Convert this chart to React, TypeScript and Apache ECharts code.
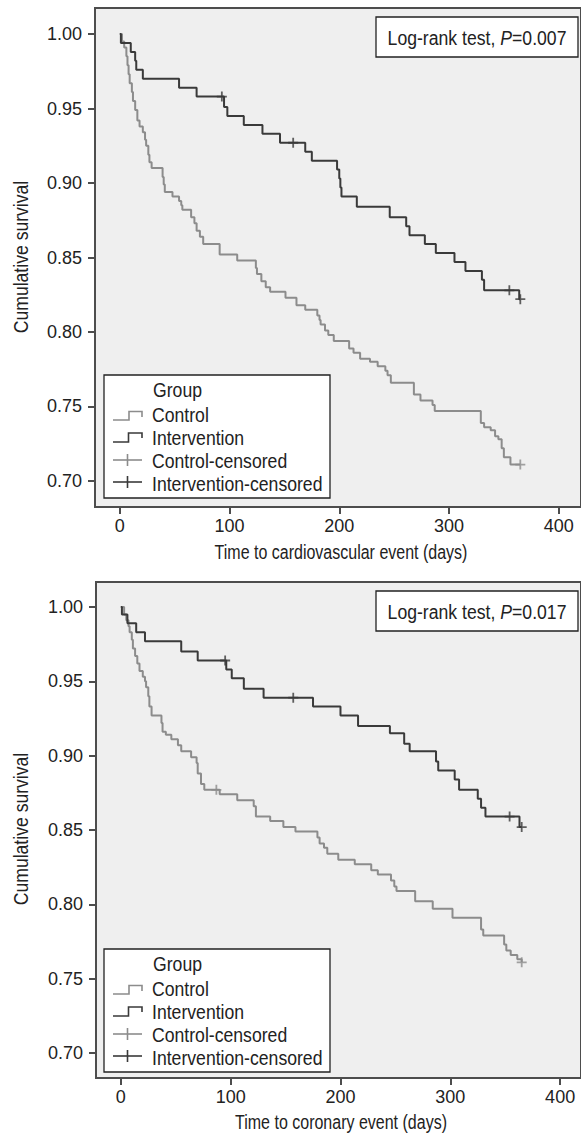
import React, { useEffect, useRef } from "react";
import * as echarts from "echarts";

// ---------- data ----------
const xTicks = [0, 100, 200, 300, 400];
const yTicks = [0.7, 0.75, 0.8, 0.85, 0.9, 0.95, 1.0];

const legendLabels = ["Group", "Control", "Intervention", "Control-censored", "Intervention-censored"];
const xNames = ["Time to cardiovascular event (days)", "Time to coronary event (days)"];
const pValues = ["0.007", "0.017"];

// Panel 1: cardiovascular event
const cvControl: [number, number][] = [
  [0, 1.0], [2, 0.995], [4, 0.991], [6, 0.985], [7, 0.979], [8, 0.973], [9, 0.967], [11, 0.961],
  [12, 0.955], [14, 0.949], [16, 0.942], [18, 0.938], [21, 0.934], [23, 0.929], [24, 0.925],
  [26, 0.919], [27, 0.914], [29, 0.91], [39, 0.904], [40, 0.899], [41, 0.894], [48, 0.891],
  [54, 0.888], [56, 0.885], [57, 0.882], [65, 0.877], [68, 0.873], [70, 0.868], [73, 0.864],
  [76, 0.859], [91, 0.852], [107, 0.848], [124, 0.843], [125, 0.839], [129, 0.834], [133, 0.83],
  [137, 0.827], [151, 0.823], [161, 0.818], [169, 0.815], [180, 0.811], [182, 0.808], [183, 0.805],
  [187, 0.801], [190, 0.798], [195, 0.794], [209, 0.789], [213, 0.786], [219, 0.782], [228, 0.78],
  [235, 0.777], [242, 0.774], [244, 0.771], [247, 0.766], [268, 0.758], [274, 0.754], [285, 0.751],
  [287, 0.747], [329, 0.739], [332, 0.736], [338, 0.734], [342, 0.73], [345, 0.728], [348, 0.722],
  [350, 0.716], [356, 0.711], [365, 0.711],
];
const cvIntervention: [number, number][] = [
  [0, 1.0], [1, 0.994], [10, 0.988], [14, 0.982], [15, 0.976], [21, 0.97], [54, 0.964], [70, 0.958],
  [95, 0.951], [98, 0.945], [113, 0.939], [130, 0.933], [146, 0.927], [169, 0.921], [175, 0.915],
  [198, 0.909], [200, 0.903], [201, 0.897], [202, 0.891], [216, 0.884], [246, 0.877], [261, 0.871],
  [264, 0.865], [278, 0.859], [288, 0.853], [305, 0.847], [315, 0.841], [330, 0.835], [332, 0.828],
  [364, 0.822], [365, 0.822],
];
const cvControlCensored: [number, number][] = [[365, 0.711]];
const cvInterventionCensored: [number, number][] = [[93, 0.958], [158, 0.927], [355, 0.828], [365, 0.822]];

// Panel 2: coronary event
const coControl: [number, number][] = [
  [0, 1.0], [3, 0.995], [5, 0.991], [7, 0.987], [8, 0.983], [10, 0.978], [11, 0.972], [13, 0.967],
  [15, 0.962], [17, 0.957], [20, 0.953], [22, 0.95], [23, 0.946], [25, 0.94], [26, 0.933], [28, 0.927],
  [37, 0.922], [38, 0.916], [41, 0.914], [46, 0.911], [52, 0.907], [55, 0.903], [64, 0.899],
  [69, 0.895], [70, 0.888], [73, 0.881], [76, 0.877], [90, 0.874], [106, 0.87], [121, 0.866],
  [123, 0.859], [136, 0.856], [148, 0.852], [159, 0.849], [179, 0.845], [181, 0.841], [185, 0.838],
  [188, 0.834], [198, 0.83], [213, 0.827], [228, 0.823], [234, 0.82], [246, 0.816], [249, 0.812],
  [251, 0.809], [268, 0.802], [284, 0.797], [302, 0.791], [328, 0.783], [330, 0.779], [349, 0.773],
  [351, 0.769], [355, 0.766], [361, 0.763], [365, 0.761],
];
const coIntervention: [number, number][] = [
  [0, 1.0], [1, 0.995], [6, 0.989], [14, 0.983], [22, 0.977], [55, 0.97], [70, 0.964], [96, 0.958],
  [101, 0.952], [112, 0.945], [130, 0.939], [175, 0.933], [200, 0.927], [216, 0.92], [245, 0.915],
  [258, 0.908], [263, 0.903], [287, 0.896], [289, 0.89], [304, 0.884], [308, 0.877], [325, 0.871],
  [328, 0.865], [332, 0.859], [363, 0.852], [365, 0.852],
];
const coControlCensored: [number, number][] = [[87, 0.877], [365, 0.761]];
const coInterventionCensored: [number, number][] = [[95, 0.964], [157, 0.939], [354, 0.859], [365, 0.852]];

// ---------- styling ----------
const FONT = "'Liberation Sans', Arial, sans-serif";
const TEXT = "#222";
const GRAY = "#8c8c8c";
const DARK = "#3a3a3a";
const FRAME = "#4d4d4d";
const CROSS = "path://M4.1,0H5.9V4.1H10V5.9H5.9V10H4.1V5.9H0V4.1H4.1Z";

function axisX(gridIndex: number, min: number, max: number) {
  return {
    type: "value",
    gridIndex,
    min,
    max,
    axisLine: { show: false, onZero: false },
    splitLine: { show: false },
    axisTick: { show: true, length: 7, customValues: xTicks, lineStyle: { color: FRAME, width: 2 } },
    axisLabel: { customValues: xTicks, margin: 10, fontSize: 18, color: TEXT, fontFamily: FONT },
  };
}
function axisY(gridIndex: number, min: number, max: number) {
  return {
    type: "value",
    gridIndex,
    min,
    max,
    axisLine: { show: false, onZero: false },
    splitLine: { show: false },
    axisTick: { show: true, length: 7, customValues: yTicks, lineStyle: { color: FRAME, width: 2 } },
    axisLabel: {
      customValues: yTicks,
      margin: 13,
      fontSize: 18,
      color: TEXT,
      fontFamily: FONT,
      formatter: (v: number) => v.toFixed(2),
    },
  };
}

function kmSeries(idx: number, data: [number, number][], color: string) {
  return {
    type: "line",
    xAxisIndex: idx,
    yAxisIndex: idx,
    data,
    step: "end",
    symbol: "none",
    showSymbol: false,
    silent: true,
    lineStyle: { color, width: 2 },
    z: 3,
  };
}
function censSeries(idx: number, data: [number, number][], color: string) {
  return {
    type: "scatter",
    xAxisIndex: idx,
    yAxisIndex: idx,
    data,
    symbol: CROSS,
    symbolSize: 10,
    silent: true,
    itemStyle: { color },
    z: 4,
  };
}

function txt(x: number, y: number, text: string, align: string, size: number, sx: number, extra: any = {}) {
  return {
    type: "text",
    x,
    y,
    z: 20,
    scaleX: sx,
    silent: true,
    ...extra,
    style: {
      text,
      fill: TEXT,
      fontSize: size,
      fontFamily: FONT,
      align,
      textAlign: align,
      verticalAlign: "middle",
      textVerticalAlign: "middle",
      ...(extra.style || {}),
    },
  };
}

function panelGraphics(dy: number, xName: string, p: string, yMid: number, xNameY: number) {
  const els: any[] = [];
  // axis names
  els.push(txt(21, yMid, "Cumulative survival", "center", 20, 0.88, { rotation: Math.PI / 2 }));
  els.push(txt(341, xNameY, xName, "center", 20, 0.8));
  // log-rank box
  els.push({
    type: "rect",
    z: 19,
    silent: true,
    shape: { x: 376, y: 17 + dy, width: 202, height: 40 },
    style: { fill: "#fff", stroke: "#222", lineWidth: 1.3 },
  });
  els.push({
    type: "text",
    x: 477,
    y: 37 + dy,
    z: 20,
    scaleX: 0.84,
    silent: true,
    style: {
      text: "Log-rank test, {i|P}=" + p,
      fill: TEXT,
      fontSize: 21,
      fontFamily: FONT,
      align: "center",
      textAlign: "center",
      verticalAlign: "middle",
      textVerticalAlign: "middle",
      rich: { i: { fontStyle: "italic", fontSize: 21, fontFamily: FONT, fill: TEXT } },
    },
  });
  // legend box
  els.push({
    type: "rect",
    z: 19,
    silent: true,
    shape: { x: 104, y: 375 + dy, width: 226, height: 123 },
    style: { fill: "#fff", stroke: "#222", lineWidth: 1.3 },
  });
  const rowsY = [389, 414, 437, 460, 483];
  legendLabels.forEach((lab, i) => {
    els.push(txt(i === 0 ? 153 : 152, rowsY[i] + dy, lab, "left", 21, 0.84));
  });
  els.push({
    type: "polyline",
    z: 20,
    silent: true,
    shape: { points: [[113, 420 + dy], [129, 420 + dy], [129, 411.5 + dy], [142, 411.5 + dy], [142, 417 + dy]] },
    style: { stroke: GRAY, lineWidth: 1.6, fill: "none" },
  });
  els.push({
    type: "polyline",
    z: 20,
    silent: true,
    shape: { points: [[113, 442 + dy], [128.5, 442 + dy], [128.5, 433 + dy], [142, 433 + dy], [142, 438 + dy]] },
    style: { stroke: DARK, lineWidth: 1.6, fill: "none" },
  });
  [[460, GRAY], [482, DARK]].forEach(([yy, c]: any) => {
    els.push({
      type: "line",
      z: 20,
      silent: true,
      shape: { x1: 113, y1: yy + dy, x2: 142, y2: yy + dy },
      style: { stroke: c, lineWidth: 1.6 },
    });
    els.push({
      type: "line",
      z: 20,
      silent: true,
      shape: { x1: 127.5, y1: yy - 6 + dy, x2: 127.5, y2: yy + 6 + dy },
      style: { stroke: c, lineWidth: 1.6 },
    });
  });
  return els;
}

export default function App() {
  const ref = useRef<HTMLDivElement>(null);
  useEffect(() => {
    document.body.style.margin = "0";
    if (!ref.current) return;
    const chart = echarts.init(ref.current, null, { renderer: "svg" });
    const gridStyle = {
      show: true,
      backgroundColor: "#efefef",
      borderColor: FRAME,
      borderWidth: 2,
    };
    chart.setOption({
      animation: false,
      backgroundColor: "#ffffff",
      grid: [
        { left: 95, top: 8, width: 489, height: 499, ...gridStyle },
        { left: 96, top: 582, width: 488, height: 496, ...gridStyle },
      ],
      xAxis: [axisX(0, -22.6, 420.3), axisX(1, -22.6, 419)],
      yAxis: [axisY(0, 0.68255, 1.01745), axisY(1, 0.6832, 1.0168)],
      series: [
        kmSeries(0, cvControl, GRAY),
        kmSeries(0, cvIntervention, DARK),
        censSeries(0, cvControlCensored, GRAY),
        censSeries(0, cvInterventionCensored, DARK),
        kmSeries(1, coControl, GRAY),
        kmSeries(1, coIntervention, DARK),
        censSeries(1, coControlCensored, GRAY),
        censSeries(1, coInterventionCensored, DARK),
      ],
      graphic: [
        ...panelGraphics(0, xNames[0], pValues[0], 257, 552),
        ...panelGraphics(574, xNames[1], pValues[1], 829, 1122),
      ],
    });
    return () => chart.dispose();
  }, []);
  return <div ref={ref} style={{ width: 581, height: 1135 }} />;
}
